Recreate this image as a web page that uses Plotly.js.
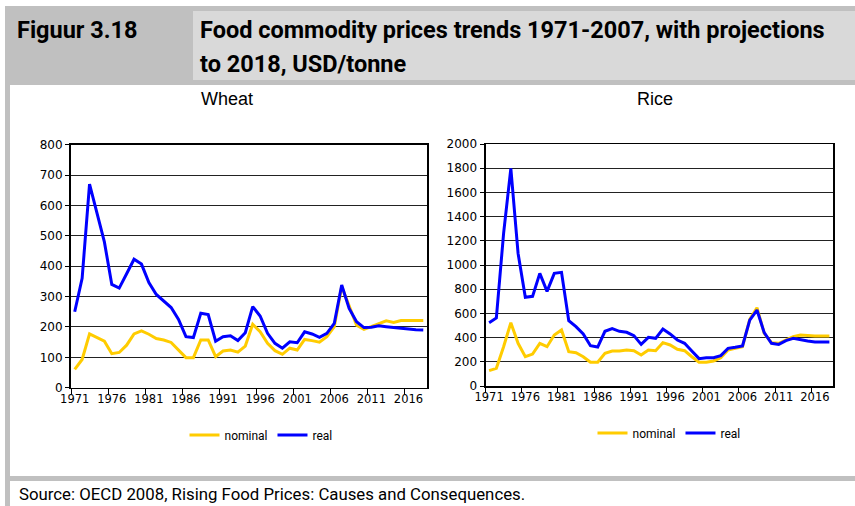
<!DOCTYPE html>
<html>
<head>
<meta charset="utf-8">
<script src="https://cdn.plot.ly/plotly-3.0.1.min.js"></script>
<style>html,body{margin:0;padding:0;background:#fff;}#chart{width:855px;height:506px;}</style>
</head>
<body>
<div id="chart"></div>
<script>
const years = [1971,1972,1973,1974,1975,1976,1977,1978,1979,1980,1981,1982,1983,1984,1985,1986,1987,1988,1989,1990,1991,1992,1993,1994,1995,1996,1997,1998,1999,2000,2001,2002,2003,2004,2005,2006,2007,2008,2009,2010,2011,2012,2013,2014,2015,2016,2017,2018];

const wheatNominal = [60,93,177,166,153,112,116,140,177,187,176,162,157,149,124,99,99,157,157,102,121,124,117,137,209,184,146,122,110,130,124,159,155,150,168,201,333,267,206,192,201,212,220,215,221,221,221,221];
const wheatReal = [250,360,670,575,480,340,328,375,423,407,346,307,284,264,225,168,165,245,241,153,168,171,155,181,267,236,179,146,130,151,148,184,177,166,179,212,338,261,217,198,199,204,201,198,197,194,191,190];

const riceNominal = [127,146,325,523,353,242,264,353,325,421,463,284,275,242,196,196,270,289,289,298,292,256,298,292,358,339,303,292,242,196,196,207,234,298,311,325,551,647,435,358,353,380,408,421,416,413,413,413];
const riceReal = [523,562,1262,1799,1096,733,741,931,782,931,939,540,490,430,333,322,452,474,452,444,416,344,402,394,471,430,380,353,289,226,234,234,251,311,320,331,545,628,441,353,344,375,394,380,372,364,364,364];

const xTickVals = [1971,1976,1981,1986,1991,1996,2001,2006,2011,2016];
const xTickText = ['1971','1976','1981','1986','1991','1996','2001','2006','2011','2016'];
const seriesNames = ['nominal','real'];
const figureLabel = 'Figuur 3.18';
const titleLine1 = 'Food commodity prices trends 1971-2007, with projections';
const titleLine2 = 'to 2018, USD/tonne';
const panelTitles = ['Wheat','Rice'];
const sourceText = 'Source: OECD 2008, Rising Food Prices: Causes and Consequences.';

const W = 855, H = 506;
const px = x => x / W;
const py = y => 1 - y / H;

const NOM = '#FFCC00', REAL = '#0000FF';
const narrow = 'Roboto, "Liberation Sans", sans-serif';
const tickFont = {family: '"DejaVu Sans", Verdana, sans-serif', size: 11.5, color: '#000'};

const traces = [
  {x: years, y: wheatNominal, name: seriesNames[0], type: 'scatter', mode: 'lines', line: {color: NOM, width: 3}, xaxis: 'x', yaxis: 'y', legend: 'legend'},
  {x: years, y: wheatReal, name: seriesNames[1], type: 'scatter', mode: 'lines', line: {color: REAL, width: 3}, xaxis: 'x', yaxis: 'y', legend: 'legend'},
  {x: years, y: riceNominal, name: seriesNames[0], type: 'scatter', mode: 'lines', line: {color: NOM, width: 3}, xaxis: 'x2', yaxis: 'y2', legend: 'legend2'},
  {x: years, y: riceReal, name: seriesNames[1], type: 'scatter', mode: 'lines', line: {color: REAL, width: 3}, xaxis: 'x2', yaxis: 'y2', legend: 'legend2'}
];

function xAxis(domain, anchor) {
  return {
    domain: domain, anchor: anchor, range: [1970.5, 2018.5], type: 'linear',
    tickmode: 'array', tickvals: xTickVals, ticktext: xTickText, ticks: '',
    minor: {tick0: 1970.5, dtick: 5, ticks: 'outside', ticklen: 5, tickcolor: '#000', tickwidth: 1, showgrid: false},
    showgrid: false, zeroline: false, showline: true, linecolor: '#000', linewidth: 1.5, mirror: true,
    tickfont: tickFont, fixedrange: true
  };
}
function yAxis(domain, anchor, max, dtick) {
  return {
    domain: domain, anchor: anchor, range: [0, max], dtick: dtick, tick0: 0,
    ticks: 'outside', ticklen: 4, tickcolor: '#000', tickwidth: 1,
    showgrid: true, gridcolor: '#222', gridwidth: 1, zeroline: false,
    showline: true, linecolor: '#000', linewidth: 2, mirror: true,
    tickfont: Object.assign({}, tickFont, {size: 12}), fixedrange: true
  };
}

const grayDark = '#c0c0c0', grayLight = '#d9d9d9';
const shapes = [
  {type: 'rect', xref: 'paper', yref: 'paper', x0: px(5), x1: px(10), y0: py(506), y1: py(6), fillcolor: grayDark, line: {width: 0}, layer: 'below'},
  {type: 'rect', xref: 'paper', yref: 'paper', x0: px(5), x1: px(855), y0: py(85), y1: py(6), fillcolor: grayDark, line: {width: 0}, layer: 'below'},
  {type: 'rect', xref: 'paper', yref: 'paper', x0: px(193), x1: px(855), y0: py(80), y1: py(11), fillcolor: grayLight, line: {width: 0}, layer: 'below'},
  {type: 'rect', xref: 'paper', yref: 'paper', x0: px(5), x1: px(855), y0: py(481), y1: py(476), fillcolor: grayDark, line: {width: 0}, layer: 'below'}
];

const annotations = [
  {text: '<b>' + figureLabel + '</b>', xref: 'paper', yref: 'paper', x: px(15), y: py(30), xanchor: 'left', yanchor: 'middle', showarrow: false, font: {family: narrow, size: 23.5, color: '#000'}},
  {text: '<b>' + titleLine1 + '</b>', xref: 'paper', yref: 'paper', x: px(198), y: py(30), xanchor: 'left', yanchor: 'middle', showarrow: false, font: {family: narrow, size: 23.5, color: '#000'}},
  {text: '<b>' + titleLine2 + '</b>', xref: 'paper', yref: 'paper', x: px(198), y: py(64), xanchor: 'left', yanchor: 'middle', showarrow: false, font: {family: narrow, size: 23.5, color: '#000'}},
  {text: panelTitles[0], xref: 'paper', yref: 'paper', x: px(227), y: py(99), xanchor: 'center', yanchor: 'middle', showarrow: false, font: {family: '"Liberation Sans", Arial, sans-serif', size: 18, color: '#000'}},
  {text: panelTitles[1], xref: 'paper', yref: 'paper', x: px(655), y: py(99), xanchor: 'center', yanchor: 'middle', showarrow: false, font: {family: '"Liberation Sans", Arial, sans-serif', size: 18, color: '#000'}},
  {text: sourceText, xref: 'paper', yref: 'paper', x: px(17), y: py(494), xanchor: 'left', yanchor: 'middle', showarrow: false, font: {family: narrow, size: 16.8, color: '#000'}}
];

const legendBase = {orientation: 'h', xanchor: 'center', yanchor: 'middle', bgcolor: 'rgba(0,0,0,0)', borderwidth: 0, font: {family: narrow, size: 12, color: '#000'}, itemwidth: 30, tracegroupgap: 0};

const layout = {
  width: W, height: H, autosize: false,
  margin: {l: 0, r: 0, t: 0, b: 0, pad: 0},
  paper_bgcolor: '#fff', plot_bgcolor: '#fff',
  showlegend: true,
  xaxis: xAxis([px(71), px(427)], 'y'),
  yaxis: yAxis([py(387.7), py(144.7)], 'x', 800, 100),
  xaxis2: xAxis([px(485.5), px(833)], 'y2'),
  yaxis2: yAxis([py(386), py(144)], 'x2', 2000, 200),
  legend: Object.assign({}, legendBase, {x: px(261), y: py(435)}),
  legend2: Object.assign({}, legendBase, {x: px(669), y: py(433)}),
  shapes: shapes,
  annotations: annotations
};

Plotly.newPlot('chart', traces, layout, {displayModeBar: false, staticPlot: true});
</script>
</body>
</html>
